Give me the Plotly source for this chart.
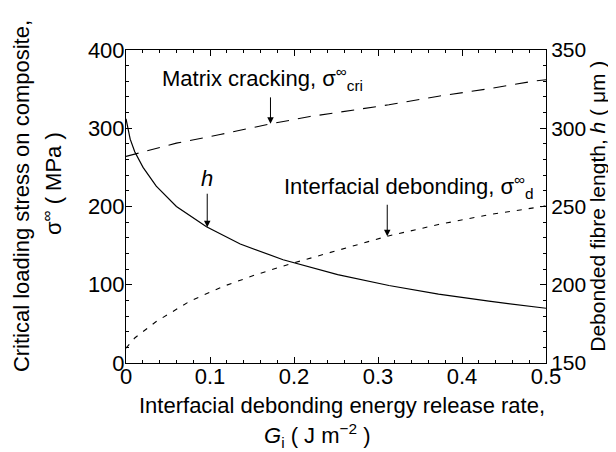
import numpy as np
import plotly.graph_objects as go

# ---- data ----
g_matrix = [0.0, 0.028, 0.06, 0.112, 0.169, 0.219, 0.252, 0.313, 0.372, 0.432, 0.484, 0.5]
s_matrix = [264, 272, 281, 292, 305, 315, 320, 330, 341, 350.5, 360, 362]

g_debond = [0.0, 0.0104, 0.036, 0.076, 0.116, 0.155, 0.195, 0.252, 0.311, 0.372, 0.432, 0.496, 0.5]
s_debond = [19, 32, 53, 79, 98, 113, 126.5, 143.5, 162, 177, 189.5, 200, 201]

g_h = [0.0, 0.005, 0.0104, 0.0203, 0.036, 0.06, 0.0958, 0.136, 0.187, 0.252, 0.313, 0.372, 0.432, 0.5]
h_len = [306, 293, 285, 275, 263, 250, 237, 226, 216, 206.5, 199.5, 194, 189.5, 185]

x_ticks = [0, 0.1, 0.2, 0.3, 0.4, 0.5]
x_ticklabels = ["0", "0.1", "0.2", "0.3", "0.4", "0.5"]
y_ticks = [0, 100, 200, 300, 400]
y2_ticks = [150, 200, 250, 300, 350]

FONT = "Liberation Sans, Arial, Helvetica, sans-serif"
FS = 22

fig = go.Figure()
fig.add_trace(go.Scatter(x=g_matrix, y=s_matrix, mode="lines",
                         line=dict(color="black", width=1.1, dash="13px,9px"),
                         name="Matrix cracking", showlegend=False))
fig.add_trace(go.Scatter(x=g_debond, y=s_debond, mode="lines",
                         line=dict(color="black", width=1.1, dash="5px,7px"),
                         name="Interfacial debonding", showlegend=False))
fig.add_trace(go.Scatter(x=g_h, y=h_len, mode="lines", yaxis="y2",
                         line=dict(color="black", width=1.2),
                         name="h", showlegend=False))

axis_common = dict(showgrid=False, zeroline=False, showline=True, linecolor="black",
                   linewidth=1, ticks="inside", tickcolor="black", ticklen=6, tickwidth=1.2)

fig.update_layout(
    width=616, height=452,
    margin=dict(l=118, r=78, t=42, b=97),
    paper_bgcolor="white", plot_bgcolor="white",
    font=dict(family=FONT, size=FS, color="black"),
    xaxis=dict(range=[0, 0.5], tickvals=x_ticks, ticktext=x_ticklabels, mirror="ticks",
               ticklabelstandoff=-6, tickfont=dict(family=FONT, size=FS, color="black"),
               minor=dict(dtick=0.02, ticks="inside", ticklen=3, tickcolor="black"),
               **axis_common),
    yaxis=dict(range=[0, 400], tickvals=y_ticks, ticklabelstandoff=-4,
               tickfont=dict(family=FONT, size=FS, color="black"),
               minor=dict(dtick=20, ticks="inside", ticklen=3, tickcolor="black"),
               **axis_common),
    yaxis2=dict(range=[150, 350], tickvals=y2_ticks, overlaying="y", side="right",
                ticklabelstandoff=0, tickfont=dict(family=FONT, size=21, color="black"),
                minor=dict(tick0=150, dtick=10, ticks="inside", ticklen=3, tickcolor="black"),
                **axis_common),
)

# axis titles as text annotations
titles = [
    dict(text="Critical loading stress on composite,", x=-0.247, y=0.534, textangle=-90, size=FS),
    dict(text="σ<sup>∞</sup> ( MPa )", x=-0.176, y=0.572, textangle=-90, size=FS),
    dict(text="Debonded fibre length, <i>h</i> ( μm )", x=1.122, y=0.50, textangle=-90, size=21),
]
for t in titles:
    sz = t.pop("size")
    fig.add_annotation(xref="paper", yref="paper", showarrow=False,
                       xanchor="center", yanchor="middle",
                       font=dict(family=FONT, size=sz, color="black"), **t)
fig.add_annotation(xref="paper", yref="paper", x=0.026, y=-0.137, xanchor="left",
                   yanchor="middle", showarrow=False,
                   text="Interfacial debonding energy release rate,",
                   font=dict(family=FONT, size=FS, color="black"))
fig.add_annotation(xref="paper", yref="paper", x=0.324, y=-0.232, xanchor="left",
                   yanchor="middle", showarrow=False,
                   text="<i>G</i><sub>i</sub> ( J m<sup>−2</sup> )",
                   font=dict(family=FONT, size=FS, color="black"))

# curve labels
fig.add_annotation(x=0.163, y=364, xref="x", yref="y", showarrow=False,
                   text="Matrix cracking, σ<sup>∞</sup><sub>cri</sub>",
                   font=dict(family=FONT, size=FS, color="black"))
fig.add_annotation(x=0.337, y=226, xref="x", yref="y", showarrow=False,
                   text="Interfacial debonding, σ<sup>∞</sup><sub>d</sub>",
                   font=dict(family=FONT, size=FS, color="black"))
fig.add_annotation(x=0.096, y=236, xref="x", yref="y", showarrow=False,
                   text="<i>h</i>", font=dict(family=FONT, size=FS, color="black"))

# arrows pointing to curves
arrow_style = dict(showarrow=True, arrowhead=2, arrowsize=1.3, arrowwidth=1,
                   arrowcolor="black", ax=0, text="")
xm = 0.172
fig.add_annotation(x=xm, y=float(np.interp(xm, g_matrix, s_matrix)), xref="x", yref="y",
                   ay=-28, **arrow_style)
xd = 0.311
fig.add_annotation(x=xd, y=float(np.interp(xd, g_debond, s_debond)), xref="x", yref="y",
                   ay=-33, **arrow_style)
xh = 0.0967
fig.add_annotation(x=xh, y=float(np.interp(xh, g_h, h_len)), xref="x", yref="y2",
                   ay=-35, **arrow_style)

fig.write_html("out.html")
